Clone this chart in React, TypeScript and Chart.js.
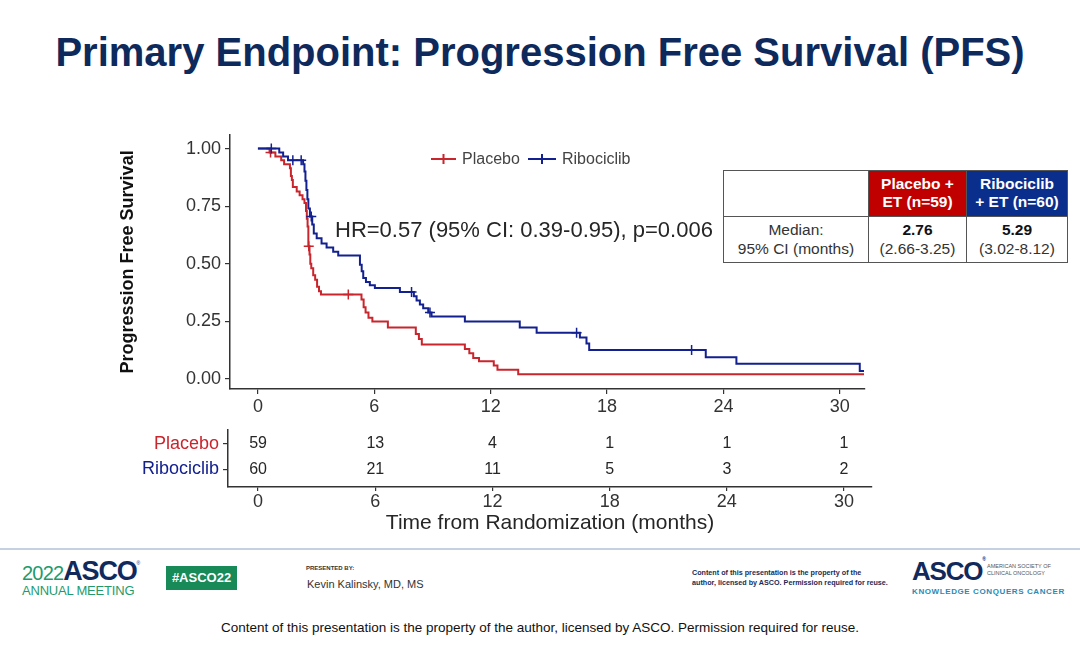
import React, { useEffect, useRef } from 'react';
import { Chart, registerables } from 'chart.js';

Chart.register(...registerables);

const FONT = '"Liberation Sans", Arial, Helvetica, sans-serif';
const RED = '#C9252C';
const BLUE = '#13208F';
const AXIS = '#333333';
const TEXT = '#262626';

// ---- Kaplan-Meier step data (months, survival probability) ----
const placeboTime = [0, 0.6, 0.9, 1.2, 1.35, 1.65, 1.7, 1.75, 1.8, 2.0, 2.15, 2.3, 2.4, 2.48, 2.52, 2.56, 2.6, 2.66, 2.7, 2.75, 2.85, 2.95, 3.05, 3.15, 3.25, 5.34, 5.45, 5.55, 5.7, 5.9, 6.7, 8.14, 8.3, 8.45, 10.67, 10.9, 11.1, 11.4, 12.16, 12.35, 13.42, 31.25];
const placeboSurv = [1, 0.983, 0.966, 0.949, 0.932, 0.915, 0.881, 0.864, 0.833, 0.814, 0.797, 0.78, 0.763, 0.729, 0.695, 0.661, 0.576, 0.54, 0.5, 0.48, 0.45, 0.43, 0.4, 0.38, 0.366, 0.344, 0.31, 0.287, 0.265, 0.248, 0.222, 0.194, 0.172, 0.148, 0.129, 0.11, 0.09, 0.076, 0.057, 0.039, 0.019, 0.019];

const ribociclibTime = [0, 1.1, 1.3, 1.55, 2.33, 2.4, 2.45, 2.5, 2.55, 2.6, 2.68, 2.8, 2.88, 3.03, 3.28, 3.54, 3.88, 4.14, 5.26, 5.35, 5.43, 5.57, 5.77, 6.03, 7.32, 8.04, 8.18, 8.35, 8.52, 8.78, 8.95, 10.67, 13.5, 14.37, 16.6, 16.94, 17.08, 23.09, 24.67, 31.03, 31.25];
const ribociclibSurv = [1, 0.983, 0.966, 0.949, 0.932, 0.9, 0.86, 0.82, 0.78, 0.74, 0.705, 0.67, 0.631, 0.61, 0.588, 0.57, 0.552, 0.535, 0.495, 0.467, 0.437, 0.42, 0.406, 0.394, 0.377, 0.358, 0.34, 0.322, 0.306, 0.287, 0.27, 0.248, 0.222, 0.2, 0.179, 0.153, 0.125, 0.093, 0.065, 0.033, 0.033];

// censoring marks
const placeboCensorTime = [0.65, 2.62, 4.66];
const placeboCensorSurv = [0.983, 0.576, 0.366];
const ribociclibCensorTime = [0.69, 1.8, 2.23, 2.75, 7.92, 8.87, 16.43, 22.36];
const ribociclibCensorSurv = [1, 0.949, 0.949, 0.705, 0.377, 0.287, 0.2, 0.125];

// axes
const xTicks = [0, 6, 12, 18, 24, 30];
const yTicks = [0, 0.25, 0.5, 0.75, 1];

// number at risk
const riskRows = ['Placebo', 'Ribociclib'];
const placeboRisk = [59, 13, 4, 1, 1, 1];
const ribociclibRisk = [60, 21, 11, 5, 3, 2];

const seriesLabels = ['Placebo', 'Ribociclib'];
const hrText = 'HR=0.57 (95% CI: 0.39-0.95), p=0.006';
const yTitle = 'Progression Free Survival';
const xTitle = 'Time from Randomization (months)';

const pts = (t: number[], s: number[]) => t.map((x, i) => ({ x, y: s[i] }));

const kmDecor = {
  id: 'kmDecor',
  afterDraw(chart: any) {
    const ctx = chart.ctx;
    ctx.save();
    // legend
    const ly = 39;
    const items = [
      { x: 331, w: 25, color: RED, label: seriesLabels[0] },
      { x: 428, w: 28, color: BLUE, label: seriesLabels[1] },
    ];
    items.forEach((it) => {
      ctx.strokeStyle = it.color;
      ctx.lineWidth = 2;
      ctx.beginPath();
      ctx.moveTo(it.x, ly);
      ctx.lineTo(it.x + it.w, ly);
      const cx = it.x + it.w / 2;
      ctx.moveTo(cx, ly - 5);
      ctx.lineTo(cx, ly + 5);
      ctx.stroke();
      ctx.fillStyle = '#444';
      ctx.font = `16px ${FONT}`;
      ctx.textAlign = 'left';
      ctx.textBaseline = 'middle';
      ctx.fillText(it.label, it.x + it.w + 6, ly + 1);
    });
    // HR annotation
    ctx.fillStyle = TEXT;
    ctx.font = `22px ${FONT}`;
    ctx.textAlign = 'left';
    ctx.textBaseline = 'middle';
    ctx.fillText(hrText, 235, 111);
    ctx.restore();
  },
};

const riskNumbers = {
  id: 'riskNumbers',
  afterDatasetsDraw(chart: any) {
    const ctx = chart.ctx;
    const xs = chart.scales.x;
    const ys = chart.scales.y;
    const values = [placeboRisk, ribociclibRisk];
    ctx.save();
    ctx.fillStyle = TEXT;
    ctx.font = `16px ${FONT}`;
    ctx.textAlign = 'center';
    ctx.textBaseline = 'middle';
    chart.data.datasets.forEach((ds: any, i: number) => {
      ds.data.forEach((p: any, j: number) => {
        ctx.fillText(String(values[i][j]), xs.getPixelForValue(p.x), ys.getPixelForValue(p.y));
      });
    });
    ctx.restore();
  },
};

export default function App() {
  const kmRef = useRef<HTMLCanvasElement>(null);
  const riskRef = useRef<HTMLCanvasElement>(null);

  useEffect(() => {
    const tickFont = { family: FONT, size: 18 };
    const km = new Chart(kmRef.current as HTMLCanvasElement, {
      type: 'line',
      data: {
        datasets: [
          {
            label: seriesLabels[1],
            data: pts(ribociclibTime, ribociclibSurv),
            borderColor: BLUE,
            borderWidth: 2,
            pointRadius: 0,
            stepped: true,
            fill: false,
            order: 1,
          } as any,
          {
            label: seriesLabels[0],
            data: pts(placeboTime, placeboSurv),
            borderColor: RED,
            borderWidth: 2,
            pointRadius: 0,
            stepped: true,
            fill: false,
            order: 2,
          } as any,
          {
            type: 'scatter',
            label: 'Ribociclib censored',
            data: pts(ribociclibCensorTime, ribociclibCensorSurv),
            borderColor: BLUE,
            backgroundColor: BLUE,
            pointStyle: 'cross',
            pointRadius: 5,
            borderWidth: 1.5,
            showLine: false,
            order: 0,
          } as any,
          {
            type: 'scatter',
            label: 'Placebo censored',
            data: pts(placeboCensorTime, placeboCensorSurv),
            borderColor: RED,
            backgroundColor: RED,
            pointStyle: 'cross',
            pointRadius: 5,
            borderWidth: 1.5,
            showLine: false,
            order: 0,
          } as any,
        ],
      },
      options: {
        responsive: false,
        animation: false,
        events: [],
        layout: { padding: { left: 0, right: 25, top: 14, bottom: 0 } },
        plugins: { legend: { display: false }, tooltip: { enabled: false } },
        scales: {
          x: {
            type: 'linear',
            min: -1.44,
            max: 31.3,
            afterBuildTicks: (s: any) => {
              s.ticks = xTicks.map((v) => ({ value: v }));
            },
            afterFit: (s: any) => {
              s.height = 31;
            },
            grid: { drawOnChartArea: false, drawTicks: true, tickLength: 5, color: AXIS, lineWidth: 1.2 },
            border: { display: true, color: AXIS, width: 1.5 },
            ticks: { font: tickFont, color: '#333', padding: 2, maxRotation: 0, autoSkip: false },
          },
          y: {
            type: 'linear',
            min: -0.045,
            max: 1.06,
            afterBuildTicks: (s: any) => {
              s.ticks = yTicks.map((v) => ({ value: v }));
            },
            afterFit: (s: any) => {
              s.width = 130;
            },
            grid: { drawOnChartArea: false, drawTicks: true, tickLength: 5, color: AXIS, lineWidth: 1.2 },
            border: { display: true, color: AXIS, width: 1.5 },
            ticks: {
              font: tickFont,
              color: '#333',
              padding: 4,
              callback: (v: any) => Number(v).toFixed(2),
            },
            title: {
              display: true,
              text: yTitle,
              font: { family: FONT, size: 18, weight: 'bold' },
              color: '#111',
              padding: { top: 17, bottom: 0 },
            },
          },
        },
      } as any,
      plugins: [kmDecor],
    });

    const risk = new Chart(riskRef.current as HTMLCanvasElement, {
      type: 'scatter',
      data: {
        datasets: [
          { label: riskRows[0], data: xTicks.map((t) => ({ x: t, y: 1 })), pointRadius: 0, showLine: false },
          { label: riskRows[1], data: xTicks.map((t) => ({ x: t, y: 2 })), pointRadius: 0, showLine: false },
        ],
      },
      options: {
        responsive: false,
        animation: false,
        events: [],
        layout: { padding: { left: 0, right: 28, top: 10, bottom: 0 } },
        plugins: { legend: { display: false }, tooltip: { enabled: false } },
        scales: {
          x: {
            type: 'linear',
            min: -1.54,
            max: 31.43,
            afterBuildTicks: (s: any) => {
              s.ticks = xTicks.map((v) => ({ value: v }));
            },
            afterFit: (s: any) => {
              s.height = 58;
            },
            grid: { drawOnChartArea: false, drawTicks: true, tickLength: 4, color: AXIS, lineWidth: 1.2 },
            border: { display: true, color: AXIS, width: 1.5 },
            ticks: { font: tickFont, color: '#333', padding: 0, maxRotation: 0, autoSkip: false },
            title: {
              display: true,
              text: xTitle,
              font: { family: FONT, size: 21 },
              color: TEXT,
              padding: { top: 0, bottom: 9 },
            },
          },
          y: {
            type: 'linear',
            reverse: true,
            min: 0.46,
            max: 2.68,
            afterBuildTicks: (s: any) => {
              s.ticks = [{ value: 1 }, { value: 2 }];
            },
            afterFit: (s: any) => {
              s.width = 128;
            },
            grid: { drawOnChartArea: false, drawTicks: true, tickLength: 5, color: AXIS, lineWidth: 1.2 },
            border: { display: true, color: AXIS, width: 1.5 },
            ticks: {
              font: tickFont,
              padding: 4,
              color: (c: any) => (c.tick && c.tick.value === 1 ? RED : BLUE),
              callback: (v: any) => riskRows[Number(v) - 1],
            },
          },
        },
      } as any,
      plugins: [riskNumbers],
    });

    return () => {
      km.destroy();
      risk.destroy();
    };
  }, []);

  const abs = (l: number, t: number, extra: any = {}) => ({ position: 'absolute' as const, left: l, top: t, ...extra });
  const cellBorder = '1px solid #555';

  return (
    <div style={{ position: 'absolute', left: 0, top: 0, width: 1080, height: 648, background: '#fff', overflow: 'hidden', fontFamily: FONT }}>
      <div style={abs(0, 32, { width: 1080, textAlign: 'center', fontSize: 40, lineHeight: '40px', fontWeight: 'bold', color: '#0E2A5C' })}>
        Primary Endpoint: Progression Free Survival (PFS)
      </div>

      <canvas ref={kmRef} width={790} height={300} style={abs(100, 120, { width: 790, height: 300 })} />
      <canvas ref={riskRef} width={800} height={130} style={abs(100, 415, { width: 800, height: 130 })} />

      {/* median table */}
      <div style={abs(723, 170, { width: 345, height: 93, background: '#fff', border: cellBorder, boxSizing: 'border-box' })}>
        <div style={abs(0, 0, { width: 145, height: 46, borderRight: cellBorder, borderBottom: cellBorder, boxSizing: 'border-box' })} />
        <div style={abs(145, 0, { width: 98, height: 46, background: '#C00000', borderRight: cellBorder, borderBottom: cellBorder, boxSizing: 'border-box', color: '#fff', fontWeight: 'bold', fontSize: 15.5, lineHeight: '18px', textAlign: 'center', paddingTop: 4 })}>
          Placebo +<br />ET (n=59)
        </div>
        <div style={abs(243, 0, { width: 100, height: 46, background: '#0A2E8C', borderBottom: cellBorder, boxSizing: 'border-box', color: '#fff', fontWeight: 'bold', fontSize: 15.5, lineHeight: '18px', textAlign: 'center', paddingTop: 4 })}>
          Ribociclib<br />+ ET (n=60)
        </div>
        <div style={abs(0, 46, { width: 145, height: 45, borderRight: cellBorder, boxSizing: 'border-box', color: '#333', fontSize: 15.5, lineHeight: '19px', textAlign: 'center', paddingTop: 3 })}>
          Median:<br />95% CI (months)
        </div>
        <div style={abs(145, 46, { width: 98, height: 45, borderRight: cellBorder, boxSizing: 'border-box', color: '#333', fontSize: 15.5, lineHeight: '19px', textAlign: 'center', paddingTop: 3 })}>
          <b style={{ color: '#111' }}>2.76</b><br />(2.66-3.25)
        </div>
        <div style={abs(243, 46, { width: 100, height: 45, boxSizing: 'border-box', color: '#333', fontSize: 15.5, lineHeight: '19px', textAlign: 'center', paddingTop: 3 })}>
          <b style={{ color: '#111' }}>5.29</b><br />(3.02-8.12)
        </div>
      </div>

      {/* footer */}
      <div style={abs(0, 548, { width: 1080, height: 1.5, background: '#C5D0E3' })} />
      <div style={abs(22, 556, { display: 'flex', alignItems: 'baseline', whiteSpace: 'nowrap' })}>
        <span style={{ fontSize: 20, color: '#1E9B6B', letterSpacing: -0.8 }}>2022</span>
        <span style={{ fontSize: 27, fontWeight: 'bold', color: '#12295C', letterSpacing: -1.2 }}>ASCO</span>
        <span style={{ fontSize: 5, color: '#12295C', alignSelf: 'flex-start', marginTop: 4 }}>®</span>
      </div>
      <div style={abs(22, 583, { fontSize: 13, color: '#1E9B6B', letterSpacing: -0.2, whiteSpace: 'nowrap' })}>ANNUAL MEETING</div>
      <div style={abs(166, 566, { width: 71, height: 24, background: '#178A58', color: '#fff', fontWeight: 'bold', fontSize: 13, lineHeight: '24px', textAlign: 'center' })}>#ASCO22</div>
      <div style={abs(306, 565, { fontSize: 6, fontWeight: 'bold', color: '#333', whiteSpace: 'nowrap' })}>PRESENTED BY:</div>
      <div style={abs(307, 578, { fontSize: 11, color: '#333', whiteSpace: 'nowrap' })}>Kevin Kalinsky, MD, MS</div>
      <div style={abs(692, 568, { fontSize: 7.2, fontWeight: 'bold', lineHeight: '9.5px', color: '#1B2B55', whiteSpace: 'nowrap' })}>
        Content of this presentation is the property of the<br />author, licensed by ASCO. Permission required for reuse.
      </div>
      <div style={abs(912, 556, { fontSize: 26, fontWeight: 'bold', color: '#12295C', letterSpacing: -1.2, whiteSpace: 'nowrap' })}>
        ASCO<span style={{ fontSize: 5, verticalAlign: 'top' }}>®</span>
      </div>
      <div style={abs(987, 563, { fontSize: 5.5, lineHeight: '7px', color: '#555', whiteSpace: 'nowrap' })}>
        AMERICAN SOCIETY OF<br />CLINICAL ONCOLOGY
      </div>
      <div style={abs(912, 587, { fontSize: 8, fontWeight: 'bold', color: '#2A8AB5', letterSpacing: 0.6, whiteSpace: 'nowrap' })}>KNOWLEDGE CONQUERS CANCER</div>
      <div style={abs(0, 620, { width: 1080, textAlign: 'center', fontSize: 13.5, color: '#111' })}>
        Content of this presentation is the property of the author, licensed by ASCO. Permission required for reuse.
      </div>
    </div>
  );
}
